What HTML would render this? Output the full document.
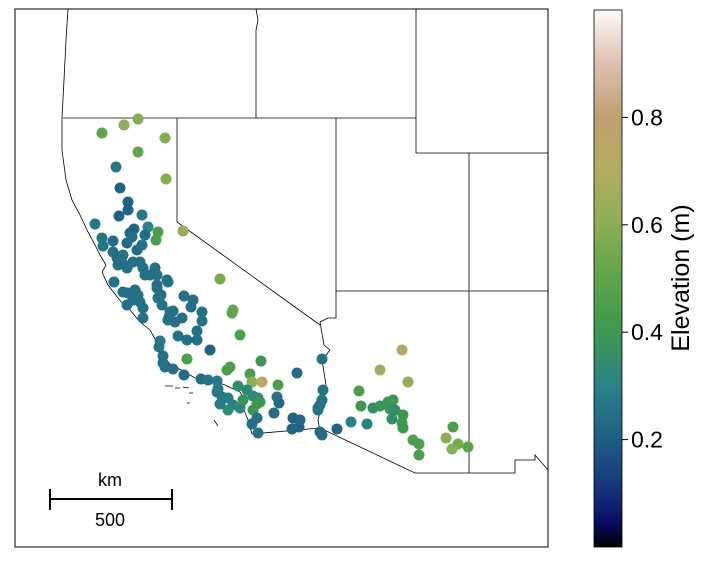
<!DOCTYPE html>
<html><head><meta charset="utf-8"><style>
body{margin:0;background:#fff;width:704px;height:563px;overflow:hidden;font-family:"Liberation Sans","DejaVu Sans",sans-serif}
</style></head><body>
<svg id="chart" width="704" height="563" viewBox="0 0 704 563" xmlns="http://www.w3.org/2000/svg">
<defs>
<linearGradient id="cmap" x1="0" y1="1" x2="0" y2="0">
<stop offset="0" stop-color="#000000"/><stop offset="0.05" stop-color="#0a0d6a"/><stop offset="0.1" stop-color="#13307a"/>
<stop offset="0.2" stop-color="#1f5d84"/><stop offset="0.3" stop-color="#2a8286"/><stop offset="0.4" stop-color="#3c984e"/>
<stop offset="0.5" stop-color="#5ea44a"/><stop offset="0.6" stop-color="#8aaf55"/><stop offset="0.7" stop-color="#b3ae5f"/>
<stop offset="0.8" stop-color="#c09f70"/><stop offset="0.9" stop-color="#ddc0b0"/><stop offset="1" stop-color="#fdfafa"/>
</linearGradient>
</defs>
<g fill="none" stroke="#000" stroke-width="0.8">
<rect x="15" y="9" width="533" height="538" stroke-width="1"/>
<polyline points="63,118 416,118"/>
<polyline points="256,9 258,20 256,30 256,118"/>
<polyline points="416,9 416,153 548,153"/>
<polyline points="336,118 336,291 548,291"/>
<polyline points="469,153 469,473"/>
<polyline points="177,118 177,222 320,325"/>
<polyline points="336,291 336,318 328,318 320,322 324,345 330,350 322,360 326,385 320,392 322,405 318,420 320,432"/>
<polyline points="252,434 320,428 415,473 515,473 515,460 535,460 535,455 548,470"/>
<polyline points="68,9 66,40 64,80 62,118 62,150 66,180 72,200 80,215 88,232 95,245 100,255 106,265 102,272 108,285 118,298 124,305 130,310 140,322 150,330 158,344 162,355 170,364 185,372 195,378 210,380 225,385 240,392 245,400 244,410 248,420 252,434"/>
<path d="M165,386 l8,0 M175,388 l5,0 M183,387 l6,1 M189,393 l4,0 M187,403 l3,0 M217,407 l4,2 M214,420 l4,6"/>
</g>
<g id="points"></g>
<g stroke="#000" stroke-width="2">
<line x1="50" y1="499" x2="172" y2="499"/><line x1="50" y1="489" x2="50" y2="510"/><line x1="172" y1="489" x2="172" y2="510"/>
</g>
<text x="110" y="486" font-size="18" text-anchor="middle">km</text>
<text x="110" y="526" font-size="18" text-anchor="middle">500</text>
<rect x="594" y="10" width="28" height="537" fill="url(#cmap)" stroke="#000" stroke-width="0.8"/>
<g id="cticks"></g>
<text transform="translate(689,278) rotate(-90)" font-size="25" text-anchor="middle">Elevation (m)</text>
</svg>
<script>
const tickValues=[0.2,0.4,0.6,0.8];
const tickLabels=["0.2","0.4","0.6","0.8"];
const px=[102,124,138,165,138,166,116,120,128,128,
119,142,95,148,158,156,183,134,145,130,
102,103,113,113,117,123,122,127,118,127,
132,137,133,140,143,145,150,155,157,142,
114,123,128,135,138,133,127,140,143,157,
158,167,162,170,143,168,175,182,220,233,
232,157,168,161,184,193,191,173,169,202,
202,240,178,187,197,197,210,160,159,163,
163,187,173,165,184,230,227,261,250,252,
262,278,297,201,208,217,218,217,222,220,
228,233,240,228,238,247,253,258,260,253,
243,257,277,279,274,257,252,258,293,300,
292,299,320,322,337,322,323,322,318,402,
380,408,359,361,373,380,388,393,390,395,
403,392,402,403,413,419,419,453,446,458,
452,468,351,367,320,318];
const py=[133,125,119,138,152,179,167,188,202,210,
216,215,224,227,232,240,231,229,235,233,
238,246,241,252,258,255,262,268,265,243,
237,250,262,262,268,275,275,268,275,245,
282,292,293,290,295,300,305,302,308,288,
298,280,305,312,318,320,322,318,279,310,
313,285,282,295,296,300,307,311,317,312,
321,335,336,340,340,331,350,341,347,356,
363,359,369,367,375,367,370,361,374,382,
382,385,373,379,380,381,389,392,397,404,
398,405,408,410,386,390,396,398,402,410,
400,404,397,403,413,418,424,433,418,420,
429,427,432,435,429,359,390,400,408,350,
370,382,391,406,408,406,402,400,409,410,
415,419,423,428,440,444,455,427,438,444,
449,447,422,424,405,410];
const pv=[0.5,0.6,0.58,0.58,0.5,0.58,0.27,0.22,0.22,0.22,
0.22,0.28,0.27,0.3,0.45,0.45,0.63,0.22,0.24,0.22,
0.26,0.26,0.24,0.25,0.25,0.26,0.25,0.25,0.25,0.24,
0.24,0.24,0.25,0.25,0.25,0.25,0.25,0.25,0.25,0.25,
0.25,0.25,0.25,0.25,0.25,0.25,0.25,0.25,0.25,0.25,
0.25,0.25,0.25,0.25,0.25,0.25,0.25,0.25,0.55,0.52,
0.5,0.25,0.25,0.25,0.25,0.25,0.25,0.25,0.25,0.25,
0.25,0.45,0.25,0.25,0.25,0.25,0.22,0.27,0.27,0.25,
0.25,0.45,0.25,0.25,0.24,0.45,0.45,0.4,0.45,0.6,
0.75,0.45,0.24,0.24,0.26,0.28,0.28,0.28,0.28,0.28,
0.28,0.3,0.32,0.33,0.35,0.33,0.33,0.33,0.38,0.4,
0.38,0.4,0.26,0.24,0.24,0.25,0.25,0.26,0.22,0.22,
0.22,0.22,0.24,0.24,0.22,0.26,0.26,0.26,0.26,0.75,
0.65,0.62,0.45,0.4,0.35,0.38,0.38,0.4,0.38,0.35,
0.4,0.35,0.4,0.4,0.45,0.45,0.45,0.45,0.6,0.55,
0.6,0.5,0.3,0.3,0.26,0.26];
const stops=[[0,0,0,0],[0.05,10,13,106],[0.1,19,48,122],[0.2,31,93,132],[0.3,42,130,134],[0.4,60,152,78],[0.5,94,164,74],[0.6,138,175,85],[0.7,179,174,95],[0.8,192,159,112],[0.9,221,192,176],[1,253,250,250]];
function cmap(v){for(let i=1;i<stops.length;i++){if(v<=stops[i][0]){const a=stops[i-1],b=stops[i],t=(v-a[0])/(b[0]-a[0]);return `rgb(${[1,2,3].map(k=>Math.round(a[k]+t*(b[k]-a[k]))).join(',')})`;}}return 'rgb(253,250,250)';}
function cy(v){return 547-v*537;}
const NS='http://www.w3.org/2000/svg';
const g=document.getElementById('points');
const n=Math.min(px.length,py.length,pv.length);
for(let i=0;i<n;i++){
 const c=document.createElementNS(NS,'circle');
 c.setAttribute('cx',px[i]);c.setAttribute('cy',py[i]);c.setAttribute('r',5.5);c.setAttribute('fill',cmap(pv[i]));
 
 
 g.appendChild(c);
}
const tg=document.getElementById('cticks');
tickValues.forEach((v,i)=>{
 const l=document.createElementNS(NS,'line');
 l.setAttribute('x1',622);l.setAttribute('x2',628);l.setAttribute('y1',cy(v));l.setAttribute('y2',cy(v));l.setAttribute('stroke','#000');
 
 
 tg.appendChild(l);
 const t=document.createElementNS(NS,'text');
 t.setAttribute('x',631);t.setAttribute('y',cy(v)+8);t.setAttribute('font-size','23');t.textContent=tickLabels[i];
 
 
 tg.appendChild(t);
});
</script>
</body></html>
